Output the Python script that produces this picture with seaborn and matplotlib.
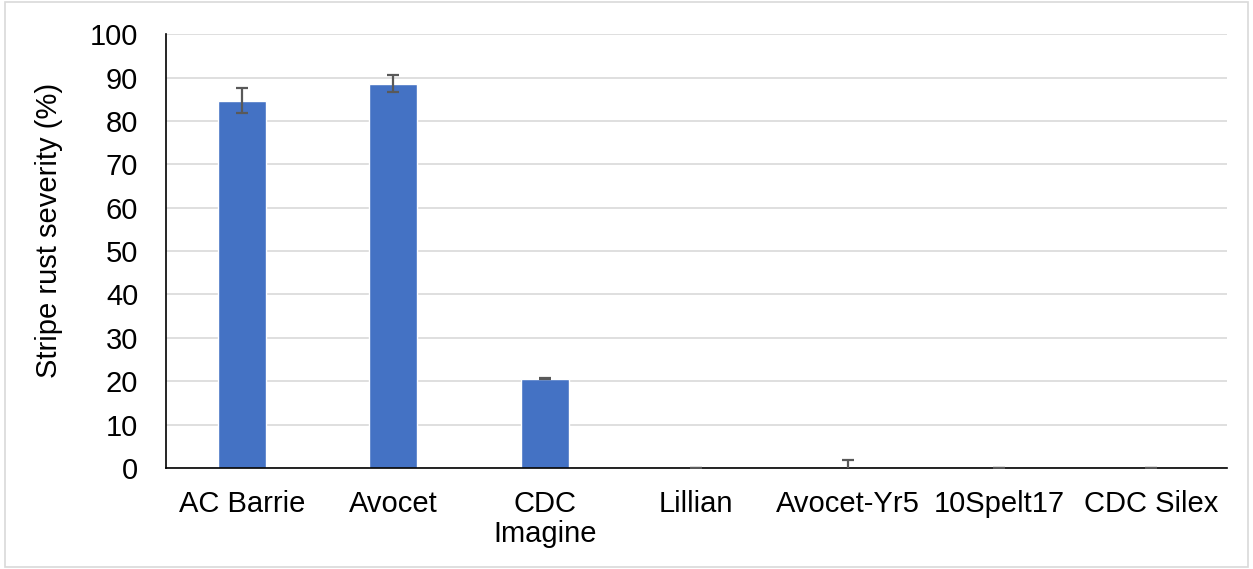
import matplotlib
matplotlib.use("Agg")
import matplotlib.pyplot as plt
import seaborn as sns
import pandas as pd
from matplotlib.patches import Rectangle

categories = ["AC Barrie", "Avocet", "CDC\nImagine", "Lillian", "Avocet-Yr5", "10Spelt17", "CDC Silex"]
severity = [84.7, 88.6, 20.6, 0.0, 0.0, 0.0, 0.0]
errors = [2.8, 1.9, 0.2, 0.0, 1.8, 0.0, 0.0]
yticks = [0, 10, 20, 30, 40, 50, 60, 70, 80, 90, 100]

sns.set_theme(style="white")
plt.rcParams['font.family'] = ['Liberation Sans', 'DejaVu Sans']
plt.rcParams['text.color'] = 'black'
plt.rcParams['xtick.color'] = 'black'
plt.rcParams['ytick.color'] = 'black'
plt.rcParams['axes.labelcolor'] = 'black'

df = pd.DataFrame({"cat": categories, "val": severity, "err": errors})

fig = plt.figure(figsize=(12.53, 5.69), dpi=100)
ax = fig.add_axes([0.1325, 0.1775, 0.8465, 0.7625])

sns.barplot(data=df, x="cat", y="val", color="#4472C4", width=0.315,
            saturation=1, errorbar=None, ax=ax, zorder=2)
ax.errorbar(range(len(categories)), df["val"], yerr=df["err"], fmt="none",
            ecolor="#595959", elinewidth=1.6, capsize=4.5, capthick=1.6, zorder=3)

ax.set_ylim(0, 100)
ax.set_xlim(-0.5, len(categories) - 0.5)
ax.set_yticks(yticks)
ax.set_yticklabels([str(t) for t in yticks], fontsize=21)
ax.yaxis.grid(True, color="#D9D9D9", linewidth=1.2, zorder=0)
ax.set_axisbelow(True)
ax.tick_params(axis="x", labelsize=21, length=0, pad=16)
ax.tick_params(axis="y", length=0, pad=20)
for lbl in ax.get_xticklabels():
    lbl.set_linespacing(1.1)
ax.set_xlabel("")
ax.set_ylabel("Stripe rust severity (%)", fontsize=21)
ax.yaxis.set_label_coords(-0.097, 0.548)
for s in ["top", "right"]:
    ax.spines[s].set_visible(False)
for s in ["left", "bottom"]:
    ax.spines[s].set_color("black")
    ax.spines[s].set_linewidth(1.2)

fig.patches.append(Rectangle((0.004, 0.004), 0.992, 0.992, transform=fig.transFigure,
                             fill=False, edgecolor="#D9D9D9", linewidth=1.2))

fig.savefig("out.png", dpi=100)
